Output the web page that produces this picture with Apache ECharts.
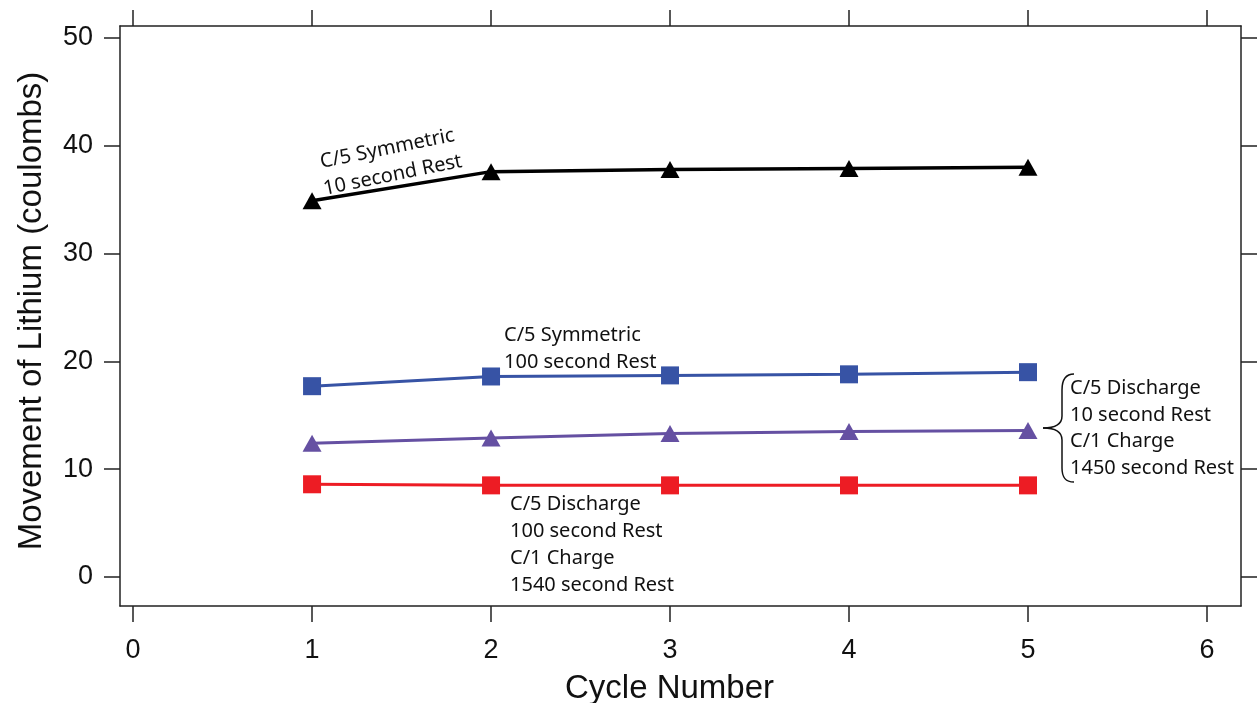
<!DOCTYPE html>
<html>
<head>
<meta charset="utf-8">
<script src="https://cdn.jsdelivr.net/npm/echarts@6/dist/echarts.min.js"></script>
<style>
  html, body { margin: 0; padding: 0; background: #fff; }
  #main { width: 1257px; height: 703px; }
</style>
</head>
<body>
<div id="main"></div>
<script>
// cycle numbers and measured lithium movement (coulombs)
var cycles = [1, 2, 3, 4, 5];
var symTenRest = [34.9, 37.6, 37.8, 37.9, 38.0];
var symHundredRest = [17.7, 18.6, 18.7, 18.8, 19.0];
var dischargeTenRest = [12.4, 12.9, 13.3, 13.5, 13.6];
var dischargeHundredRest = [8.6, 8.5, 8.5, 8.5, 8.5];
var xTicks = [0, 1, 2, 3, 4, 5, 6];
var yTicks = [0, 10, 20, 30, 40, 50];

var axisFont = 'Liberation Sans, Arial, sans-serif';
var noteFont = 'Noto Sans, sans-serif';

function pairs(ys) {
  return cycles.map(function (c, i) { return [c, ys[i]]; });
}

var myChart = echarts.init(document.getElementById('main'));

var lineAxis = { show: true, onZero: false, lineStyle: { color: '#222', width: 1.5 } };
var tickStyle = { length: 16, lineStyle: { color: '#222', width: 1.5 } };
var braceStyle = { fill: null, stroke: '#111', lineWidth: 1.5 };

var option = {
  animation: false,
  backgroundColor: '#fff',
  grid: { left: 120, top: 26, right: 16, bottom: 97, containLabel: false, outerBoundsMode: 'none' },
  xAxis: [{
    type: 'value',
    min: -0.073,
    max: 6.19,
    name: 'Cycle Number',
    nameLocation: 'middle',
    nameGap: 66,
    nameTextStyle: { fontFamily: axisFont, fontSize: 33, color: '#111', padding: [0, 22, 0, 0] },
    axisLine: lineAxis,
    axisTick: Object.assign({ customValues: xTicks }, tickStyle),
    axisLabel: { customValues: xTicks, margin: 31, fontFamily: axisFont, fontSize: 27, color: '#111' },
    splitLine: { show: false }
  }, {
    type: 'value',
    position: 'top',
    min: -0.073,
    max: 6.19,
    axisLine: lineAxis,
    axisTick: Object.assign({ customValues: xTicks }, tickStyle),
    axisLabel: { show: false },
    splitLine: { show: false }
  }],
  yAxis: [{
    type: 'value',
    min: -2.69,
    max: 51.11,
    name: 'Movement of Lithium (coulombs)',
    nameLocation: 'middle',
    nameGap: 72,
    nameTextStyle: { fontFamily: axisFont, fontSize: 33, color: '#111', padding: [0, 0, 0, 10] },
    axisLine: lineAxis,
    axisTick: Object.assign({ customValues: yTicks }, tickStyle),
    axisLabel: { customValues: yTicks, margin: 27, fontFamily: axisFont, fontSize: 27, color: '#111' },
    splitLine: { show: false }
  }, {
    type: 'value',
    position: 'right',
    min: -2.69,
    max: 51.11,
    axisLine: lineAxis,
    axisTick: Object.assign({ customValues: yTicks }, tickStyle),
    axisLabel: { show: false },
    splitLine: { show: false }
  }],
  series: [{
    name: 'C/5 Symmetric 10 second Rest',
    type: 'line',
    data: pairs(symTenRest),
    symbol: 'triangle',
    symbolSize: [19, 17],
    lineStyle: { color: '#000', width: 3.5 },
    itemStyle: { color: '#000' }
  }, {
    name: 'C/5 Symmetric 100 second Rest',
    type: 'line',
    data: pairs(symHundredRest),
    symbol: 'rect',
    symbolSize: 18,
    lineStyle: { color: '#3753a5', width: 3 },
    itemStyle: { color: '#3753a5' }
  }, {
    name: 'C/5 Discharge 10 second Rest',
    type: 'line',
    data: pairs(dischargeTenRest),
    symbol: 'triangle',
    symbolSize: [19, 17],
    lineStyle: { color: '#6550a2', width: 3 },
    itemStyle: { color: '#6550a2' }
  }, {
    name: 'C/5 Discharge 100 second Rest',
    type: 'line',
    data: pairs(dischargeHundredRest),
    symbol: 'rect',
    symbolSize: 18,
    lineStyle: { color: '#ed1c24', width: 3 },
    itemStyle: { color: '#ed1c24' }
  }],
  graphic: [{
    type: 'text',
    x: 390,
    y: 162,
    rotation: 11.5 * Math.PI / 180,
    style: {
      text: 'C/5 Symmetric\n10 second Rest',
      font: '20px ' + noteFont,
      fill: '#111',
      align: 'center',
      verticalAlign: 'middle',
      lineHeight: 27
    }
  }, {
    type: 'text',
    x: 504,
    y: 322,
    style: {
      text: 'C/5 Symmetric\n100 second Rest',
      font: '20px ' + noteFont,
      fill: '#111',
      verticalAlign: 'top',
      lineHeight: 27
    }
  }, {
    type: 'text',
    x: 510,
    y: 491,
    style: {
      text: 'C/5 Discharge\n100 second Rest\nC/1 Charge\n1540 second Rest',
      font: '20px ' + noteFont,
      fill: '#111',
      verticalAlign: 'top',
      lineHeight: 27
    }
  }, {
    type: 'text',
    x: 1070,
    y: 375,
    style: {
      text: 'C/5 Discharge\n10 second Rest\nC/1 Charge\n1450 second Rest',
      font: '20px ' + noteFont,
      fill: '#111',
      verticalAlign: 'top',
      lineHeight: 26.7
    }
  },
  // curly brace grouping the right-hand note
  { type: 'bezierCurve', shape: { x1: 1074, y1: 374, cpx1: 1065, cpy1: 374, cpx2: 1062, cpy2: 380, x2: 1062, y2: 390 }, style: braceStyle },
  { type: 'line', shape: { x1: 1062, y1: 390, x2: 1062, y2: 416 }, style: braceStyle },
  { type: 'bezierCurve', shape: { x1: 1062, y1: 416, cpx1: 1062, cpy1: 424, cpx2: 1056, cpy2: 428, x2: 1043, y2: 428 }, style: braceStyle },
  { type: 'bezierCurve', shape: { x1: 1043, y1: 428, cpx1: 1056, cpy1: 428, cpx2: 1062, cpy2: 432, x2: 1062, y2: 440 }, style: braceStyle },
  { type: 'line', shape: { x1: 1062, y1: 440, x2: 1062, y2: 468 }, style: braceStyle },
  { type: 'bezierCurve', shape: { x1: 1062, y1: 468, cpx1: 1062, cpy1: 477, cpx2: 1065, cpy2: 482, x2: 1074, y2: 482 }, style: braceStyle }
  ]
};

myChart.setOption(option);
</script>
</body>
</html>
